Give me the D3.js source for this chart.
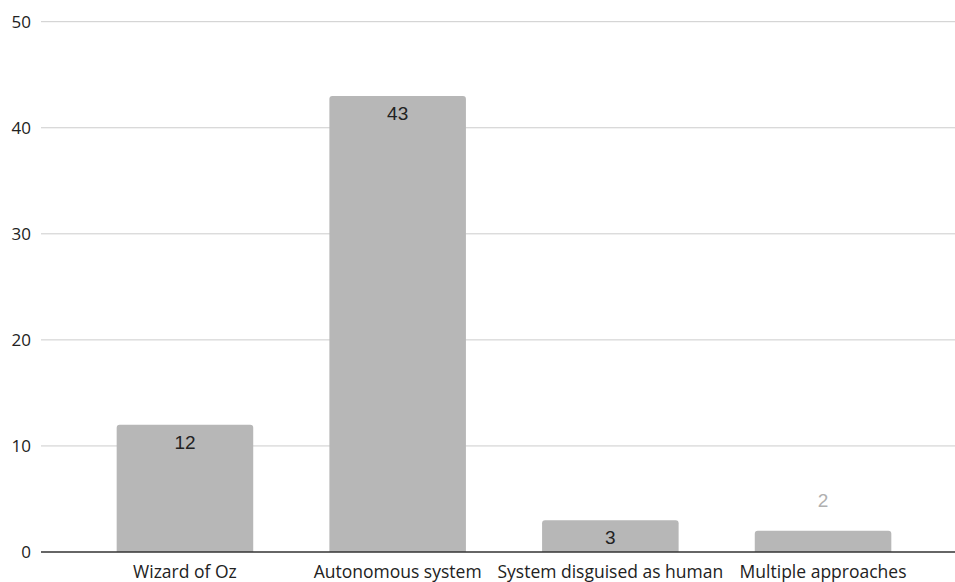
<!DOCTYPE html>
<html><head><meta charset="utf-8">
<script src="https://cdn.jsdelivr.net/npm/d3@7"></script>
<style>
html,body{margin:0;padding:0;background:#fff;}
svg{display:block;}
</style></head>
<body>
<svg id="chart" width="955" height="582"></svg>
<script>
const categories = ["Wizard of Oz", "Autonomous system", "System disguised as human", "Multiple approaches"];
const values = [12, 43, 3, 2];
const yTicks = [0, 10, 20, 30, 40, 50];

const W = 955, H = 582;
const svg = d3.select("#chart");
const gridX0 = 41, gridX1 = 955;
const y = d3.scaleLinear().domain([0, 50]).range([552, 21.7]);
const x = d3.scaleBand().domain(categories).range([78.6, 929.4]).paddingInner(0.358).paddingOuter(0.179);

// gridlines
svg.append("g").selectAll("line").data(yTicks.filter(d => d !== 0)).join("line")
  .attr("x1", gridX0).attr("x2", gridX1)
  .attr("y1", d => y(d)).attr("y2", d => y(d))
  .attr("stroke", "#cccccc").attr("stroke-width", 1);

// y tick labels
svg.append("g").selectAll("text").data(yTicks).join("text")
  .attr("x", 31).attr("y", d => y(d))
  .attr("dy", "0.35em").attr("text-anchor", "end")
  .attr("font-family", "'Open Sans', sans-serif").attr("font-size", 17)
  .attr("fill", "#222").text(d => d);

// bars with rounded top corners
const r = 3;
svg.append("g").selectAll("path").data(values).join("path")
  .attr("d", (d, i) => {
    const x0 = x(categories[i]), x1 = x0 + x.bandwidth();
    const yt = y(d), yb = y(0);
    return `M${x0},${yb}L${x0},${yt + r}Q${x0},${yt} ${x0 + r},${yt}L${x1 - r},${yt}Q${x1},${yt} ${x1},${yt + r}L${x1},${yb}Z`;
  })
  .attr("fill", "#b7b7b7");

// value labels
svg.append("g").selectAll("text").data(values).join("text")
  .attr("x", (d, i) => x(categories[i]) + x.bandwidth() / 2)
  .attr("y", d => d >= 3 ? y(d) + 24 : y(d) - 24)
  .attr("text-anchor", "middle")
  .attr("font-family", "'Liberation Sans', Arial, sans-serif").attr("font-size", 19)
  .attr("fill", d => d >= 3 ? "#222" : "#b0b0b0")
  .text(d => d);

// zero line
svg.append("line").attr("x1", gridX0).attr("x2", gridX1)
  .attr("y1", y(0)).attr("y2", y(0))
  .attr("stroke", "#333").attr("stroke-width", 1.5);

// category labels
svg.append("g").selectAll("text").data(categories).join("text")
  .attr("x", d => x(d) + x.bandwidth() / 2).attr("y", 578)
  .attr("text-anchor", "middle")
  .attr("font-family", "'Open Sans', sans-serif").attr("font-size", 17.5)
  .attr("fill", "#222").text(d => d);
</script>
</body></html>
